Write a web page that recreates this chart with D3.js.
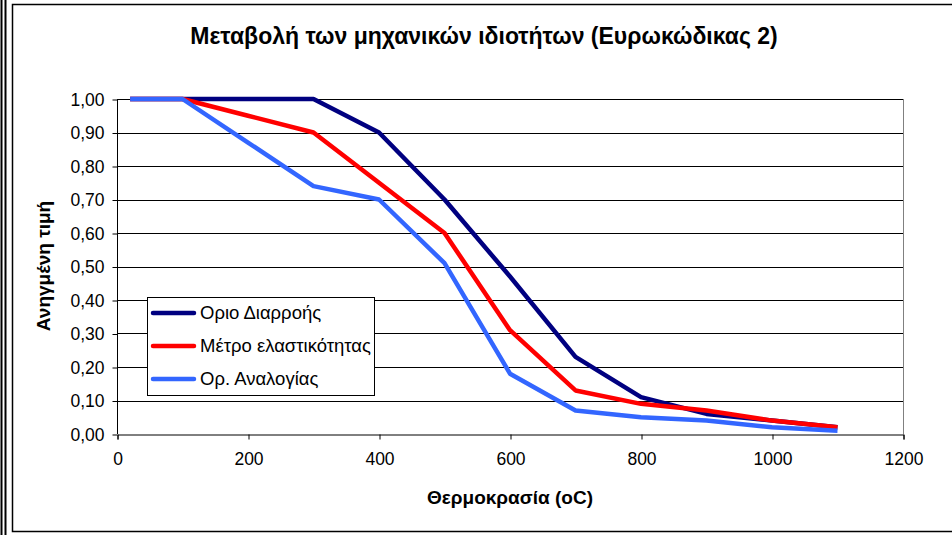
<!DOCTYPE html>
<html><head><meta charset="utf-8">
<script src="https://cdn.jsdelivr.net/npm/d3@7"></script>
<style>
html,body{margin:0;padding:0;background:#fff;}
svg{display:block;font-family:"Liberation Sans",Arial,sans-serif;}
</style></head>
<body>
<svg id="c" width="952" height="535"></svg>
<script>
const temps = [20,100,200,300,400,500,600,700,800,900,1000,1100];
const yieldStrength = [1.00,1.00,1.00,1.00,0.90,0.70,0.47,0.23,0.11,0.06,0.04,0.02];
const elasticModulus = [1.00,1.00,0.95,0.90,0.75,0.60,0.31,0.13,0.09,0.07,0.04,0.02];
const proportionalLimit = [1.00,1.00,0.87,0.74,0.70,0.51,0.18,0.07,0.05,0.04,0.02,0.01];
const seriesNames = ["Οριο Διαρροής","Μέτρο ελαστικότητας","Ορ. Αναλογίας"];
const seriesColors = ["#000080","#FF0000","#3366FF"];
const xTicks = [0,200,400,600,800,1000,1200];
const yTicks = [0,0.1,0.2,0.3,0.4,0.5,0.6,0.7,0.8,0.9,1.0];
const title = "Μεταβολή των μηχανικών ιδιοτήτων (Ευρωκώδικας 2)";
const xTitle = "Θερμοκρασία (oC)";
const yTitle = "Ανηγμένη τιμή";

const svg = d3.select("#c");
// page border lines
svg.append("line").attr("x1",1.5).attr("x2",1.5).attr("y1",0).attr("y2",535).attr("stroke","#000").attr("stroke-width",2);
svg.append("line").attr("x1",5.5).attr("x2",5.5).attr("y1",0).attr("y2",535).attr("stroke","#000").attr("stroke-width",2);
// chart frame
svg.append("rect").attr("x",12.5).attr("y",4.5).attr("width",945).attr("height",527).attr("fill","#fff").attr("stroke","#000").attr("stroke-width",1.5);

const x = d3.scaleLinear().domain([0,1200]).range([117,903]);
const y = d3.scaleLinear().domain([0,1]).range([434,99]);

// gridlines
svg.append("g").selectAll("line").data(yTicks.filter(d=>d>0)).join("line")
  .attr("x1",117).attr("x2",903).attr("y1",d=>Math.round(y(d))+0.5).attr("y2",d=>Math.round(y(d))+0.5)
  .attr("stroke","#000").attr("stroke-width",1);
// right border of plot area
svg.append("line").attr("x1",903.5).attr("x2",903.5).attr("y1",99).attr("y2",434).attr("stroke","#808080");

// axes
const yAxis = d3.axisLeft(y).tickValues(yTicks).tickSize(5).tickPadding(8)
  .tickFormat(d=>d3.format(".2f")(d).replace(".",","));
const gy = svg.append("g").attr("transform","translate(117.5,0.5)").call(yAxis);
const xAxis = d3.axisBottom(x).tickValues(xTicks).tickSize(5).tickPadding(13).tickFormat(d3.format("d"));
const gx = svg.append("g").attr("transform","translate(0.5,434.5)").call(xAxis);
[gy,gx].forEach(g=>{
  g.select(".domain").attr("stroke","#000");
  g.selectAll(".tick line").attr("stroke","#000");
  g.selectAll("text").attr("font-size",17.5).attr("fill","#000").attr("font-family","Liberation Sans, Arial, sans-serif");
});
gy.select(".domain").attr("d","M0,"+(99-0.5)+"V"+(434-0.5));

// lines
const allSeries = [yieldStrength,elasticModulus,proportionalLimit];
const line = d3.line().x((d,i)=>x(temps[i])).y(d=>y(d));
allSeries.forEach((s,k)=>{
  svg.append("path").datum(s).attr("d",line).attr("fill","none")
    .attr("stroke",seriesColors[k]).attr("stroke-width",4.5).attr("stroke-linejoin","round");
});

// titles
svg.append("text").attr("x",484).attr("y",44).attr("text-anchor","middle")
  .attr("font-size",23).attr("font-weight","bold").text(title);
svg.append("text").attr("x",510).attr("y",504).attr("text-anchor","middle")
  .attr("font-size",19).attr("font-weight","bold").text(xTitle);
svg.append("text").attr("transform","translate(50,266) rotate(-90)").attr("text-anchor","middle")
  .attr("font-size",19).attr("font-weight","bold").text(yTitle);

// legend
const lg = svg.append("g");
lg.append("rect").attr("x",147.5).attr("y",297.5).attr("width",227).attr("height",98)
  .attr("fill","#fff").attr("stroke","#000").attr("stroke-width",1);
seriesNames.forEach((n,i)=>{
  const yy = 313 + i*33;
  lg.append("line").attr("x1",153).attr("x2",194).attr("y1",yy).attr("y2",yy)
    .attr("stroke",seriesColors[i]).attr("stroke-width",4.5).attr("stroke-linecap","round");
  lg.append("text").attr("x",200).attr("y",yy+6).attr("font-size",18.5).text(n);
});
</script>
</body></html>
